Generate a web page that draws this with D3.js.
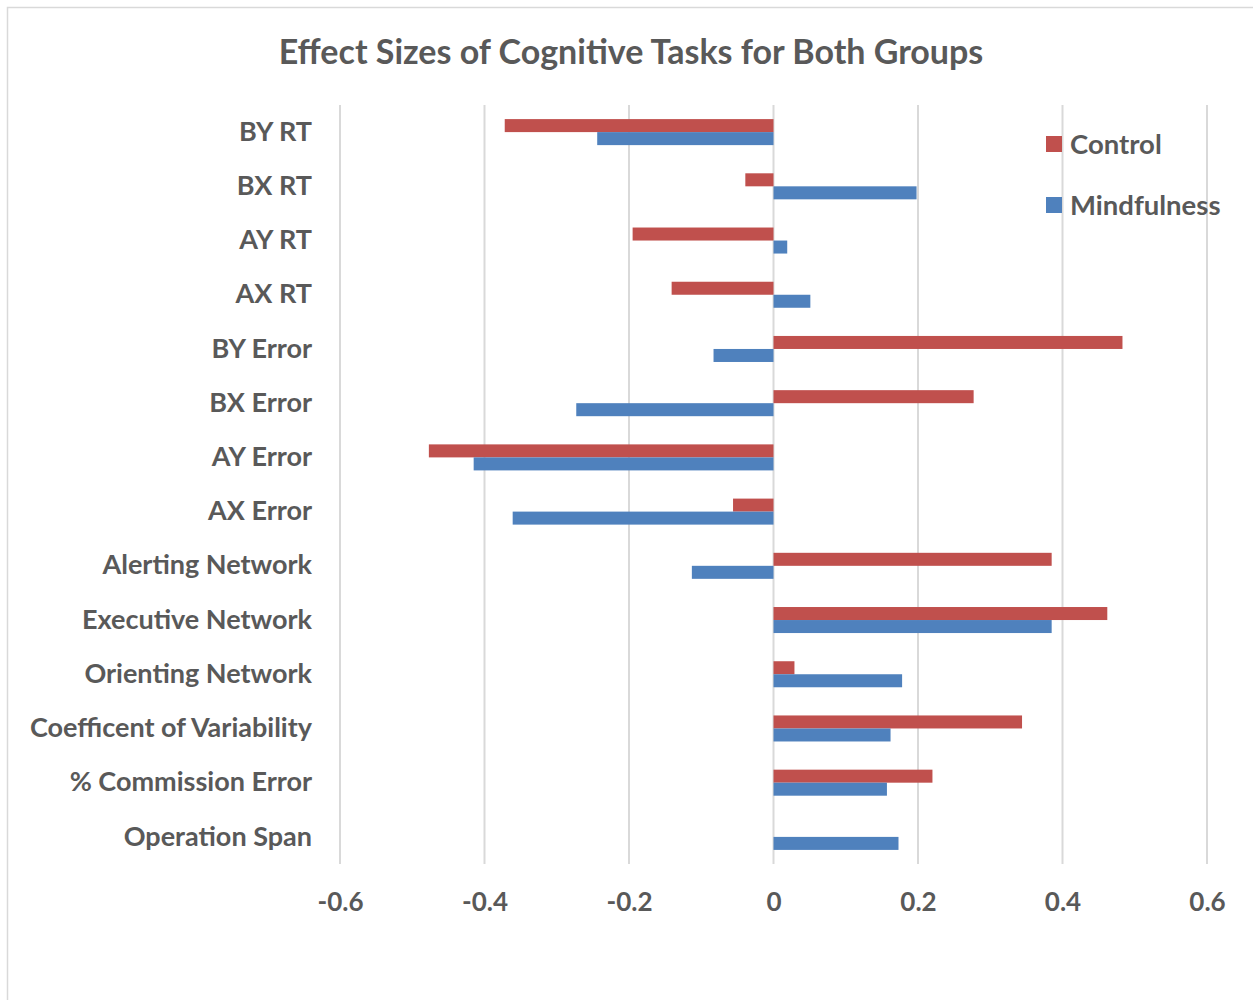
<!DOCTYPE html>
<html>
<head>
<meta charset="utf-8">
<script src="https://cdn.jsdelivr.net/npm/d3@7"></script>
<style>
  body { margin: 0; background: #fff; }
  text { font-family: Lato, "Open Sans", sans-serif; font-weight: bold; fill: #595959; }
</style>
</head>
<body>
<div id="chart"></div>
<script>
// Data
const categories = ["BY RT", "BX RT", "AY RT", "AX RT", "BY Error", "BX Error", "AY Error", "AX Error",
    "Alerting Network", "Executive Network", "Orienting Network", "Coefficent of Variability",
    "% Commission Error", "Operation Span"];
const seriesNames = ["Control", "Mindfulness"];
const controlValues = [-0.372, -0.039, -0.195, -0.141, 0.483, 0.277, -0.477, -0.056,
    0.385, 0.462, 0.029, 0.344, 0.220, 0];
const mindfulnessValues = [-0.244, 0.198, 0.019, 0.051, -0.083, -0.273, -0.415, -0.361,
    -0.113, 0.385, 0.178, 0.162, 0.157, 0.173];
const tickValues = [-0.6, -0.4, -0.2, 0, 0.2, 0.4, 0.6];
const tickLabels = ["-0.6", "-0.4", "-0.2", "0", "0.2", "0.4", "0.6"];
const colors = { Control: "#C0504D", Mindfulness: "#4F81BD" };

function draw() {
    const width = 1253, height = 1000;
    const plot = { left: 340, right: 1207, top: 105, bottom: 864 };

    const svg = d3.select("#chart")
        .append("svg")
        .attr("width", width)
        .attr("height", height);

    // chart frame
    svg.append("rect")
        .attr("x", 7.5).attr("y", 7.5)
        .attr("width", width).attr("height", height)
        .attr("fill", "none")
        .attr("stroke", "#D9D9D9")
        .attr("stroke-width", 1.5);

    // Scales
    const xScale = d3.scaleLinear()
        .domain([-0.6, 0.6])
        .range([plot.left, plot.right]);

    const yScale = d3.scaleBand()
        .domain(categories)
        .range([plot.top, plot.bottom])
        .paddingInner(0.52)
        .paddingOuter(0.26);

    const innerScale = d3.scaleBand()
        .domain(seriesNames)
        .range([0, yScale.bandwidth()]);

    // Gridlines
    svg.append("g")
        .selectAll("line")
        .data(tickValues)
        .join("line")
            .attr("x1", d => xScale(d))
            .attr("x2", d => xScale(d))
            .attr("y1", plot.top)
            .attr("y2", plot.bottom)
            .attr("stroke", "#D9D9D9")
            .attr("stroke-width", 2);

    // Bars
    const rows = categories.map((c, i) => ({
        category: c,
        values: [
            { series: "Control", value: controlValues[i] },
            { series: "Mindfulness", value: mindfulnessValues[i] }
        ]
    }));

    svg.append("g")
        .selectAll("g")
        .data(rows)
        .join("g")
            .attr("transform", d => `translate(0, ${yScale(d.category)})`)
        .selectAll("rect")
        .data(d => d.values.filter(v => v.value !== 0))
        .join("rect")
            .attr("x", d => xScale(Math.min(0, d.value)))
            .attr("y", d => innerScale(d.series))
            .attr("width", d => Math.abs(xScale(d.value) - xScale(0)))
            .attr("height", innerScale.bandwidth())
            .attr("fill", d => colors[d.series]);

    // Axis (labels only)
    const xAxis = d3.axisBottom(xScale)
        .tickValues(tickValues)
        .tickSize(0)
        .tickPadding(0)
        .tickFormat((d, i) => tickLabels[i]);

    const xAxisGroup = svg.append("g")
        .attr("transform", `translate(0, 894)`)
        .call(xAxis);
    xAxisGroup.select(".domain").remove();
    xAxisGroup.selectAll("text")
        .attr("dy", "0.35em")
        .attr("y", 8)
        .style("font-size", "26px")
        .style("font-family", "Lato, sans-serif")
        .attr("fill", "#595959");

    const yAxis = d3.axisLeft(yScale).tickSize(0).tickPadding(0);
    const yAxisGroup = svg.append("g")
        .attr("transform", `translate(312, 0)`)
        .call(yAxis);
    yAxisGroup.select(".domain").remove();
    yAxisGroup.selectAll("text")
        .style("font-size", "27px")
        .style("font-family", "Lato, sans-serif")
        .attr("fill", "#595959");

    // Title
    svg.append("text")
        .attr("x", 631)
        .attr("y", 52)
        .attr("dy", "0.35em")
        .attr("text-anchor", "middle")
        .style("font-size", "34px")
        .text("Effect Sizes of Cognitive Tasks for Both Groups");

    // Legend
    const legend = svg.append("g")
        .selectAll("g")
        .data(seriesNames)
        .join("g")
            .attr("transform", (d, i) => `translate(1046, ${144 + i * 61})`);
    legend.append("rect")
        .attr("x", 0).attr("y", -8)
        .attr("width", 16).attr("height", 16)
        .attr("fill", d => colors[d]);
    legend.append("text")
        .attr("x", 24)
        .attr("dy", "0.35em")
        .style("font-size", "27.5px")
        .text(d => d);
}

draw();
</script>
</body>
</html>
